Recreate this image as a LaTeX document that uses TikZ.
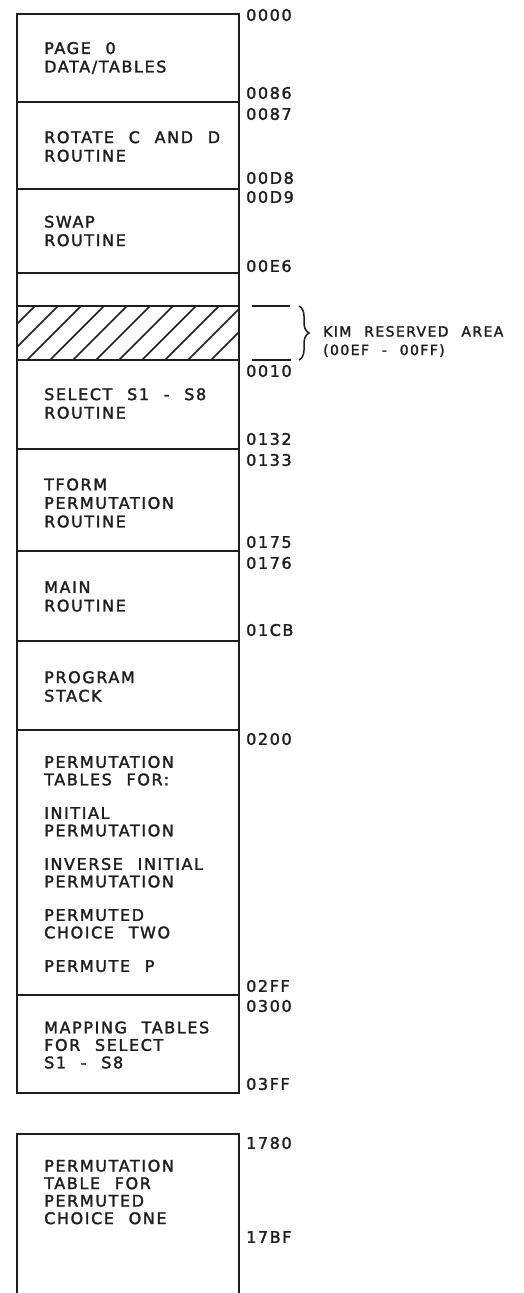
\documentclass[tikz,border=0pt]{standalone}
\usepackage{fontspec}
\setmainfont{DejaVu Sans}[LetterSpace=10, WordSpace=2.2, FakeBold=1.8]
\usetikzlibrary{decorations.pathreplacing}
\definecolor{ink}{HTML}{1E1E1E}
\begin{document}
\begin{tikzpicture}[x=1pt,y=-1pt,
  blk/.style={draw=ink, line width=1.8pt, minimum width=222pt, inner sep=0pt},
  txt/.style={font=\fontsize{16}{18.5}\selectfont, align=left, inner sep=0pt, anchor=west, text=ink},
  adr/.style={font=\fontsize{16}{18}\selectfont, inner sep=0pt, anchor=west, text=ink},
  tick/.style={draw=ink, line width=1.6pt},
  hatchline/.style={draw=ink, line width=1.5pt}]
\useasboundingbox (0,0) rectangle (524,1293);
\clip (0,0) rectangle (524,1293);
\fill[white] (0,0) rectangle (524,1293);

% memory blocks
\node[blk, minimum height=88pt]  (b1)  at (128,58) {};
\node[blk, minimum height=87pt]  (b2)  at (128,145.5) {};
\node[blk, minimum height=84pt]  (b3)  at (128,231) {};
\node[blk, minimum height=33pt]  (b4)  at (128,289.5) {};
\node[blk, minimum height=54pt]  (res) at (128,333) {};
\node[blk, minimum height=89pt]  (b5)  at (128,404.5) {};
\node[blk, minimum height=102pt] (b6)  at (128,500) {};
\node[blk, minimum height=90pt]  (b7)  at (128,596) {};
\node[blk, minimum height=89pt]  (b8)  at (128,685.5) {};
\node[blk, minimum height=265pt] (b9)  at (128,862.5) {};
\node[blk, minimum height=98pt]  (b10) at (128,1044) {};
\node[blk, minimum height=186pt] (b11) at (128,1227) {};

% hatching of reserved area
\begin{scope}
  \clip (res.south west) rectangle (res.north east);
  \foreach \k in {-3,...,10}{
    \draw[hatchline] (35+23*\k-54,360) -- (35+23*\k,306);
  }
\end{scope}
\node[blk, minimum height=54pt] at (res) {};

% block texts
\node[txt] (t1)  at (44,58)    {PAGE 0\\DATA/TABLES};
\node[txt] (t2)  at (44,146.5) {ROTATE C AND D\\ROUTINE};
\node[txt] (t3)  at (44,231)   {SWAP\\ROUTINE};
\node[txt] (t5)  at (44,403.5) {SELECT S1 - S8\\ROUTINE};
\node[txt] (t6)  at (44,503)   {TFORM\\PERMUTATION\\ROUTINE};
\node[txt] (t7)  at (44,596.5) {MAIN\\ROUTINE};
\node[txt] (t8)  at (44,686.5) {PROGRAM\\STACK};
\node[txt, font=\fontsize{16}{17.5}\selectfont] (t9) at (44,864)
  {PERMUTATION\\TABLES FOR:\\[16pt]INITIAL\\PERMUTATION\\[16pt]INVERSE INITIAL\\PERMUTATION\\[16pt]PERMUTED\\CHOICE TWO\\[16pt]PERMUTE P};
\node[txt, font=\fontsize{16}{17.5}\selectfont] (t10) at (44,1045) {MAPPING TABLES\\FOR SELECT\\S1 - S8};
\node[txt, font=\fontsize{16}{17.5}\selectfont] (t11) at (44,1192) {PERMUTATION\\TABLE FOR\\PERMUTED\\CHOICE ONE};

% addresses
\node[adr] (a0000) at (246,15)   {0000};
\node[adr] (a0086) at (246,93)   {0086};
\node[adr] (a0087) at (246,114)  {0087};
\node[adr] (a00D8) at (246,178)  {00D8};
\node[adr] (a00D9) at (246,197)  {00D9};
\node[adr] (a00E6) at (246,266)  {00E6};
\node[adr] (a0010) at (246,371)  {0010};
\node[adr] (a0132) at (246,439)  {0132};
\node[adr] (a0133) at (246,460)  {0133};
\node[adr] (a0175) at (246,542)  {0175};
\node[adr] (a0176) at (246,563)  {0176};
\node[adr] (a01CB) at (246,630)  {01CB};
\node[adr] (a0200) at (246,739)  {0200};
\node[adr] (a02FF) at (246,986)  {02FF};
\node[adr] (a0300) at (246,1006) {0300};
\node[adr] (a03FF) at (246,1084) {03FF};
\node[adr] (a1780) at (246,1143) {1780};
\node[adr] (a17BF) at (246,1237) {17BF};

% KIM reserved area marker
\coordinate (d1a) at (252,306);
\coordinate (d1b) at (290,306);
\coordinate (d2a) at (252,360);
\coordinate (d2b) at (291,360);
\draw[tick] (d1a) -- (d1b);
\draw[tick] (d2a) -- (d2b);
\coordinate (brT) at (299,306);
\coordinate (brB) at (299,360);
\draw[draw=ink, line width=1.5pt, decorate, decoration={brace, amplitude=10pt}] (brT) -- (brB);
\node[txt, font=\fontsize{14}{18.5}\selectfont] (kim) at (323,341.5) {KIM RESERVED AREA\\(00EF - 00FF)};
\end{tikzpicture}
\end{document}
